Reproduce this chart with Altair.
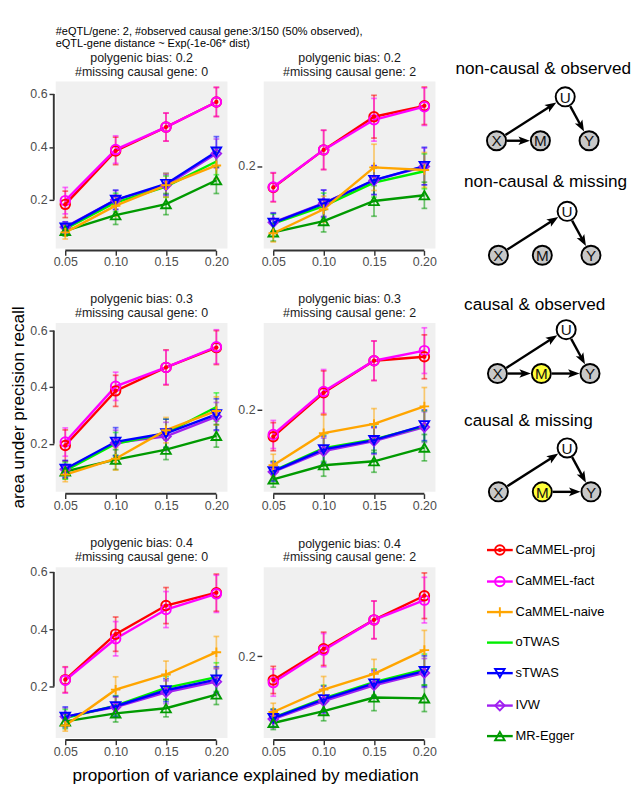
import math
import altair as alt
import pandas as pd

# ---------------- data ----------------
methods = ["CaMMEL-proj", "CaMMEL-fact", "CaMMEL-naive", "oTWAS", "sTWAS", "IVW", "MR-Egger"]
colors = ["#FF0000", "#FF00FF", "#FFA500", "#00EE00", "#0000FF", "#A020F0", "#009A00"]
shapes = ["circle", "circle", "M-1,0L1,0M0,-1L0,1", "circle", "triangle-down", "diamond", "triangle-up"]
sizes = [100, 100, 150, 0, 150, 150, 150]
draw_order = ["IVW", "oTWAS", "sTWAS", "MR-Egger", "CaMMEL-naive", "CaMMEL-proj", "CaMMEL-fact"]

x_props = [0.05, 0.10, 0.15, 0.20]
x_domain = [0.0405, 0.211]

main_title = ["#eQTL/gene: 2, #observed causal gene:3/150 (50% observed),",
              "eQTL-gene distance ~ Exp(-1e-06* dist)"]
x_title = "proportion of variance explained by mediation"
y_title = "area under precision recall"

bias_labels = ["polygenic bias: 0.2", "polygenic bias: 0.3", "polygenic bias: 0.4"]
missing_labels = ["#missing causal gene: 0", "#missing causal gene: 2"]

# top-left: bias 0.2, missing 0
tl_mean = {
    "CaMMEL-proj": [0.183, 0.385, 0.475, 0.570],
    "CaMMEL-fact": [0.197, 0.390, 0.475, 0.570],
    "CaMMEL-naive": [0.077, 0.178, 0.255, 0.330],
    "oTWAS": [0.090, 0.190, 0.250, 0.345],
    "sTWAS": [0.095, 0.200, 0.260, 0.382],
    "IVW": [0.097, 0.200, 0.255, 0.375],
    "MR-Egger": [0.083, 0.142, 0.184, 0.274],
}
tl_err = {
    "CaMMEL-proj": [0.050, 0.052, 0.053, 0.055],
    "CaMMEL-fact": [0.050, 0.052, 0.053, 0.055],
    "CaMMEL-naive": [0.025, 0.040, 0.045, 0.050],
    "oTWAS": [0.020, 0.035, 0.040, 0.050],
    "sTWAS": [0.022, 0.037, 0.040, 0.057],
    "IVW": [0.020, 0.035, 0.040, 0.055],
    "MR-Egger": [0.020, 0.035, 0.040, 0.050],
}
# top-right: bias 0.2, missing 2
tr_mean = {
    "CaMMEL-proj": [0.151, 0.237, 0.313, 0.338],
    "CaMMEL-fact": [0.152, 0.237, 0.306, 0.336],
    "CaMMEL-naive": [0.046, 0.101, 0.197, 0.191],
    "oTWAS": [0.068, 0.108, 0.162, 0.188],
    "sTWAS": [0.070, 0.114, 0.168, 0.200],
    "IVW": [0.071, 0.115, 0.167, 0.199],
    "MR-Egger": [0.048, 0.074, 0.120, 0.133],
}
tr_err = {
    "CaMMEL-proj": [0.033, 0.045, 0.049, 0.043],
    "CaMMEL-fact": [0.033, 0.045, 0.049, 0.043],
    "CaMMEL-naive": [0.020, 0.030, 0.053, 0.040],
    "oTWAS": [0.022, 0.030, 0.033, 0.040],
    "sTWAS": [0.022, 0.031, 0.033, 0.043],
    "IVW": [0.022, 0.030, 0.033, 0.042],
    "MR-Egger": [0.020, 0.025, 0.035, 0.030],
}
# middle-left: bias 0.3, missing 0
ml_mean = {
    "CaMMEL-proj": [0.194, 0.387, 0.470, 0.540],
    "CaMMEL-fact": [0.206, 0.403, 0.470, 0.543],
    "CaMMEL-naive": [0.091, 0.147, 0.248, 0.316],
    "oTWAS": [0.105, 0.200, 0.237, 0.330],
    "sTWAS": [0.111, 0.207, 0.237, 0.304],
    "IVW": [0.110, 0.203, 0.226, 0.296],
    "MR-Egger": [0.102, 0.144, 0.179, 0.228],
}
ml_err = {
    "CaMMEL-proj": [0.055, 0.055, 0.062, 0.060],
    "CaMMEL-fact": [0.050, 0.050, 0.060, 0.060],
    "CaMMEL-naive": [0.025, 0.040, 0.045, 0.050],
    "oTWAS": [0.030, 0.040, 0.050, 0.050],
    "sTWAS": [0.030, 0.050, 0.050, 0.055],
    "IVW": [0.030, 0.045, 0.050, 0.050],
    "MR-Egger": [0.025, 0.035, 0.035, 0.040],
}
# middle-right: bias 0.3, missing 2
mr_mean = {
    "CaMMEL-proj": [0.138, 0.238, 0.311, 0.320],
    "CaMMEL-fact": [0.143, 0.241, 0.311, 0.334],
    "CaMMEL-naive": [0.073, 0.146, 0.167, 0.207],
    "oTWAS": [0.060, 0.112, 0.132, 0.162],
    "sTWAS": [0.059, 0.109, 0.130, 0.164],
    "IVW": [0.058, 0.105, 0.128, 0.160],
    "MR-Egger": [0.041, 0.073, 0.082, 0.113],
}
mr_err = {
    "CaMMEL-proj": [0.032, 0.050, 0.045, 0.050],
    "CaMMEL-fact": [0.032, 0.050, 0.045, 0.052],
    "CaMMEL-naive": [0.025, 0.043, 0.035, 0.043],
    "oTWAS": [0.022, 0.030, 0.030, 0.035],
    "sTWAS": [0.022, 0.030, 0.030, 0.035],
    "IVW": [0.020, 0.030, 0.030, 0.035],
    "MR-Egger": [0.018, 0.025, 0.025, 0.030],
}
# bottom-left: bias 0.4, missing 0
bl_mean = {
    "CaMMEL-proj": [0.224, 0.383, 0.483, 0.528],
    "CaMMEL-fact": [0.222, 0.367, 0.469, 0.524],
    "CaMMEL-naive": [0.064, 0.189, 0.242, 0.320],
    "oTWAS": [0.090, 0.133, 0.195, 0.233],
    "sTWAS": [0.094, 0.131, 0.187, 0.224],
    "IVW": [0.095, 0.128, 0.180, 0.217],
    "MR-Egger": [0.078, 0.106, 0.124, 0.172],
}
bl_err = {
    "CaMMEL-proj": [0.045, 0.060, 0.063, 0.065],
    "CaMMEL-fact": [0.045, 0.060, 0.063, 0.065],
    "CaMMEL-naive": [0.020, 0.045, 0.047, 0.055],
    "oTWAS": [0.030, 0.035, 0.040, 0.050],
    "sTWAS": [0.035, 0.035, 0.040, 0.045],
    "IVW": [0.030, 0.035, 0.040, 0.045],
    "MR-Egger": [0.025, 0.030, 0.030, 0.035],
}
# bottom-right: bias 0.4, missing 2
br_mean = {
    "CaMMEL-proj": [0.146, 0.217, 0.283, 0.338],
    "CaMMEL-fact": [0.140, 0.214, 0.283, 0.328],
    "CaMMEL-naive": [0.073, 0.124, 0.160, 0.214],
    "oTWAS": [0.060, 0.104, 0.141, 0.170],
    "sTWAS": [0.059, 0.102, 0.138, 0.166],
    "IVW": [0.057, 0.098, 0.134, 0.162],
    "MR-Egger": [0.048, 0.075, 0.106, 0.104],
}
br_err = {
    "CaMMEL-proj": [0.031, 0.038, 0.043, 0.052],
    "CaMMEL-fact": [0.031, 0.038, 0.043, 0.052],
    "CaMMEL-naive": [0.020, 0.030, 0.033, 0.045],
    "oTWAS": [0.020, 0.030, 0.030, 0.035],
    "sTWAS": [0.020, 0.030, 0.030, 0.035],
    "IVW": [0.020, 0.028, 0.030, 0.033],
    "MR-Egger": [0.015, 0.022, 0.030, 0.030],
}

left_ticks = [0.2, 0.4, 0.6]
right_ticks = [0.2]
row_heights = [175, 177, 179]
row_tops = [78, 321, 566]
left_domains = [[0.016, 0.647], [0.030, 0.627], [0.020, 0.617]]
right_domains = [[0.011, 0.3935], [0.0124, 0.397], [0.0137, 0.403]]

# diagrams (page pixel coordinates)
diag_titles = ["non-causal & observed", "non-causal & missing", "causal & observed", "causal & missing"]
diag_title_x = [457, 466, 466, 466]
diag_title_y = [65, 183, 302, 424]
diag_x0 = [500, 502, 501, 502]
diag_y0 = [140, 260, 374, 498]
diag_row = [0, 0, 1, 1]
node_names = ["X", "M", "Y", "U"]
node_dx = [0, 46, 97, 72]
node_dy = [0, 0, 0, -46]
m_fill = ["#C8C8C8", "#C8C8C8", "#FFFF3A", "#FFFF3A"]
diag_edges = [
    [("X", "U"), ("U", "Y"), ("X", "M")],
    [("X", "U"), ("U", "Y")],
    [("X", "U"), ("U", "Y"), ("X", "M"), ("M", "Y")],
    [("X", "U"), ("U", "Y"), ("M", "Y")],
]
# legend (page pixel coordinates)
leg_y = [548, 581, 613, 645, 677, 711, 743]
leg_x0, leg_x1, leg_sym_x, leg_text_x = 490, 517, 503.5, 520
extra_x = [474, 626]

SPACING = 38
SPACER_W = 1

# ---------------- scales ----------------
color_scale = alt.Scale(domain=methods, range=colors)
shape_scale = alt.Scale(domain=methods, range=shapes)
size_scale = alt.Scale(domain=methods, range=sizes)


def make_panel(means, errs, h, ydom, yticks, t1, t2):
    rows = []
    for m in draw_order:
        for i, xv in enumerate(x_props):
            mu = means[m][i]
            e = errs[m][i]
            rows.append({"method": m, "x": xv, "y": mu, "lo": mu - e, "hi": mu + e})
    df = pd.DataFrame(rows)
    xs = alt.Scale(domain=x_domain, nice=False, zero=False)
    ys = alt.Scale(domain=ydom, nice=False, zero=False)
    xaxis = alt.Axis(values=x_props, format=".2f", domain=False, grid=False, tickSize=5,
                     tickWidth=1.5, tickColor="#333333", labelColor="#4D4D4D",
                     labelFontSize=13, labelPadding=1, offset=2, title=None)
    yaxis = alt.Axis(values=yticks, format=".1f", domain=False, grid=False, tickSize=5,
                     tickWidth=1.5, tickColor="#333333", labelColor="#4D4D4D",
                     labelFontSize=13, labelPadding=2, offset=2, title=None)

    def X(f):
        return alt.X(f"{f}:Q", scale=xs, axis=xaxis)

    def Y(f):
        return alt.Y(f"{f}:Q", scale=ys, axis=yaxis)

    color = alt.Color("method:N", scale=color_scale, legend=None)
    base = alt.Chart(df)
    err = base.mark_rule(strokeWidth=1.8, opacity=0.55).encode(
        x=X("x"), y=Y("lo"), y2="hi:Q", color=color)
    cap_lo = base.mark_tick(orient="horizontal", size=6, thickness=1.8, opacity=0.55).encode(
        x=X("x"), y=Y("lo"), color=color)
    cap_hi = base.mark_tick(orient="horizontal", size=6, thickness=1.8, opacity=0.55).encode(
        x=X("x"), y=Y("hi"), color=color)
    line = base.mark_line(strokeWidth=2.5).encode(x=X("x"), y=Y("y"), color=color)
    pts = base.transform_filter("datum.method != 'oTWAS'").mark_point(
        filled=False, strokeWidth=2, opacity=1).encode(
        x=X("x"), y=Y("y"), color=color,
        shape=alt.Shape("method:N", scale=shape_scale, legend=None),
        size=alt.Size("method:N", scale=size_scale, legend=None))
    dot = base.transform_filter("datum.method == 'CaMMEL-proj'").mark_point(
        filled=True, size=20, opacity=1, color="#FF0000").encode(x=X("x"), y=Y("y"))
    yline = alt.Chart(pd.DataFrame({"lo": [min(yticks)], "hi": [max(yticks)]})).mark_rule(
        strokeWidth=2, color="#333333").encode(x=alt.value(-2), y=Y("lo"), y2="hi:Q")
    xline = alt.Chart(pd.DataFrame({"lo": [min(x_props)], "hi": [max(x_props)]})).mark_rule(
        strokeWidth=2, color="#333333").encode(y=alt.value(h + 2), x=X("lo"), x2="hi:Q")
    return alt.layer(err, cap_lo, cap_hi, line, pts, dot, yline, xline).properties(
        width=180, height=h,
        title=alt.TitleParams(text=[t1, t2], fontSize=13, fontWeight="normal",
                              color="#1A1A1A", lineHeight=14.5, offset=3, anchor="middle"),
        view=alt.ViewBackground(fill="#F0F0F0", strokeWidth=0))


def make_spacer(h, text):
    # narrow column that carries the shared y-axis title (blank in the other rows)
    return alt.Chart(pd.DataFrame({"t": [text]})).mark_text(
        angle=270, fontSize=18, color="black", align="center", baseline="middle").encode(
        text="t:N", x=alt.value(SPACER_W + SPACING - 38), y=alt.value(h / 2)).properties(
        width=SPACER_W, height=h)


# ---------------- right column pieces (diagrams / legend) ----------------
gray = "#C8C8C8"
node_r = 11.0
head_len = 12.0


def make_extra(r):
    top = row_tops[r]
    h = row_heights[r]
    rx = alt.Scale(domain=extra_x, nice=False, zero=False)
    ry = alt.Scale(domain=[top, top + h], reverse=True, nice=False, zero=False)

    def RX(f):
        return alt.X(f"{f}:Q", scale=rx, axis=None)

    def RY(f):
        return alt.Y(f"{f}:Q", scale=ry, axis=None)

    if r < 2:
        node_rows, edge_rows, head_rows, title_rows = [], [], [], []
        for d in range(4):
            if diag_row[d] != r:
                continue
            pos = {n: (diag_x0[d] + node_dx[k], diag_y0[d] + node_dy[k]) for k, n in enumerate(node_names)}
            fills = {"X": gray, "Y": gray, "U": "white", "M": m_fill[d]}
            for n in node_names:
                node_rows.append({"x": pos[n][0], "y": pos[n][1], "label": n, "fill": fills[n]})
            for a, b in diag_edges[d]:
                ax, ay = pos[a]
                bx, by = pos[b]
                dx, dy = bx - ax, by - ay
                L = math.hypot(dx, dy)
                ux, uy = dx / L, dy / L
                sx, sy = ax + node_r * ux, ay + node_r * uy
                tx, ty = bx - node_r * ux, by - node_r * uy
                ex, ey = tx - 0.7 * head_len * ux, ty - 0.7 * head_len * uy
                hx, hy = tx - 0.5 * head_len * ux, ty - 0.5 * head_len * uy
                ang = math.degrees(math.atan2(ux, -uy)) % 360
                edge_rows.append({"x": sx, "y": sy, "x2": ex, "y2": ey})
                head_rows.append({"x": hx, "y": hy, "angle": ang})
            title_rows.append({"x": diag_title_x[d], "y": diag_title_y[d], "text": diag_titles[d]})
        ndf = pd.DataFrame(node_rows)
        d_titles = alt.Chart(pd.DataFrame(title_rows)).mark_text(
            align="left", baseline="middle", fontSize=18, color="black").encode(
            x=RX("x"), y=RY("y"), text="text:N")
        d_edges = alt.Chart(pd.DataFrame(edge_rows)).mark_rule(strokeWidth=2.5, color="black").encode(
            x=RX("x"), y=RY("y"), x2="x2:Q", y2="y2:Q")
        d_heads = alt.Chart(pd.DataFrame(head_rows)).mark_point(
            shape="M0,-1L0.75,1L0,0.55L-0.75,1Z", filled=True, color="black",
            size=head_len * head_len, opacity=1).encode(
            x=RX("x"), y=RY("y"), angle=alt.Angle("angle:Q", scale=None))
        d_nodes = alt.Chart(ndf).mark_point(shape="circle", filled=True, size=400, stroke="black",
                                            strokeWidth=2, opacity=1).encode(
            x=RX("x"), y=RY("y"), fill=alt.Fill("fill:N", scale=None))
        d_labels = alt.Chart(ndf).mark_text(fontSize=16, color="#111111", align="center",
                                            baseline="middle", dy=1).encode(
            x=RX("x"), y=RY("y"), text="label:N")
        layers = [d_edges, d_heads, d_nodes, d_labels, d_titles]
    else:
        ldf = pd.DataFrame([{"method": m, "y": leg_y[i], "x0": leg_x0, "x1": leg_x1,
                             "xs": leg_sym_x, "xt": leg_text_x} for i, m in enumerate(methods)])
        lcolor = alt.Color("method:N", scale=color_scale, legend=None)
        l_lines = alt.Chart(ldf).mark_rule(strokeWidth=2.5).encode(
            x=RX("x0"), x2="x1:Q", y=RY("y"), color=lcolor)
        l_pts = alt.Chart(ldf).transform_filter("datum.method != 'oTWAS'").mark_point(
            filled=False, strokeWidth=2, opacity=1).encode(
            x=RX("xs"), y=RY("y"), color=lcolor,
            shape=alt.Shape("method:N", scale=shape_scale, legend=None),
            size=alt.Size("method:N", scale=size_scale, legend=None))
        l_dot = alt.Chart(ldf).transform_filter("datum.method == 'CaMMEL-proj'").mark_point(
            filled=True, size=20, color="#FF0000", opacity=1).encode(x=RX("xs"), y=RY("y"))
        l_text = alt.Chart(ldf).mark_text(align="left", baseline="middle", fontSize=13.5,
                                          color="black").encode(
            x=RX("xt"), y=RY("y"), text="method:N")
        layers = [l_lines, l_pts, l_dot, l_text]
    return alt.layer(*layers).properties(width=extra_x[1] - extra_x[0], height=h)


panels = [
    (tl_mean, tl_err, tr_mean, tr_err),
    (ml_mean, ml_err, mr_mean, mr_err),
    (bl_mean, bl_err, br_mean, br_err),
]
lead = SPACER_W + SPACING
rows = []
for r, (lm, le, rm, re_) in enumerate(panels):
    h = row_heights[r]
    spacer = make_spacer(h, y_title if r == 1 else "")
    left = make_panel(lm, le, h, left_domains[r], left_ticks, bias_labels[r], missing_labels[0])
    right = make_panel(rm, re_, h, right_domains[r], right_ticks, bias_labels[r], missing_labels[1])
    extra = make_extra(r)
    if r == 2:
        row = alt.hconcat(spacer, left, right, extra, spacing=SPACING, bounds="flush",
                          title=alt.TitleParams(x_title, orient="bottom", anchor="middle",
                                                frame="group", fontSize=18, fontWeight="normal",
                                                color="black", offset=10, dx=199 + lead))
    else:
        row = alt.hconcat(spacer, left, right, extra, spacing=SPACING, bounds="flush")
    rows.append(row.resolve_scale(x="independent", y="independent"))

chart = alt.vconcat(
    *rows, spacing=26, padding={"left": 2, "top": 0, "right": 0, "bottom": 0},
    title=alt.TitleParams(text=main_title, anchor="start", frame="group", fontSize=11.5,
                          fontWeight="normal", color="black", lineHeight=13, offset=3, dx=lead),
).resolve_scale(x="independent", y="independent").configure(font="Liberation Sans").configure_view(strokeWidth=0)

chart.save("out.html", embed_options={"renderer": "svg", "actions": False})
